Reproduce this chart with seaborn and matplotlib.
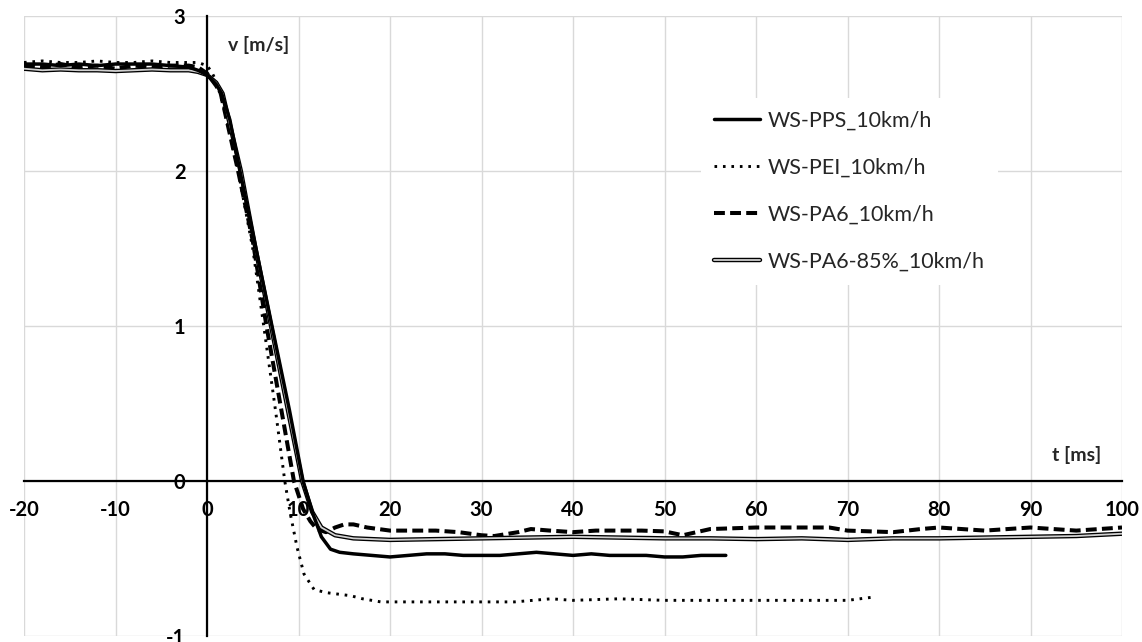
import matplotlib
matplotlib.use("Agg")
import matplotlib.pyplot as plt
import matplotlib.patheffects as pe
import seaborn as sns
import pandas as pd

# ---------------- data ----------------
pre_t = [-20, -18, -16, -14, -12, -10, -8, -6, -4, -2, -1]

pps_t = pre_t + [0, 1, 1.6, 2.5, 3.6, 5, 7.1, 9, 10.5, 11.5, 12.5, 13.5, 14.5, 16, 18, 20,
                 22, 24, 26, 28, 30, 32, 34, 36, 38, 40, 42, 44, 46, 48, 50, 52, 54, 56.7]
pps_v = [2.69, 2.69, 2.68, 2.69, 2.68, 2.69, 2.69, 2.69, 2.68, 2.67, 2.65,
         2.62, 2.56, 2.50, 2.33, 2.00, 1.60, 1.00, 0.46, 0.00, -0.20, -0.36, -0.44, -0.46,
         -0.47, -0.48, -0.49, -0.48, -0.47, -0.47, -0.48, -0.48, -0.48, -0.47, -0.46, -0.47,
         -0.48, -0.47, -0.48, -0.48, -0.48, -0.49, -0.49, -0.48, -0.48]

pei_t = pre_t + [0, 0.5, 1, 2, 3.4, 5, 6.2, 7.5, 8.5, 9.1, 9.85, 10.6, 11.7, 13, 15.7, 17, 19,
                 21, 25, 30, 33.6, 37.6, 40, 45, 50, 55, 60, 65, 70, 72.7]
pei_v = [2.70, 2.71, 2.70, 2.70, 2.71, 2.70, 2.70, 2.71, 2.70, 2.70, 2.70,
         2.68, 2.64, 2.58, 2.38, 2.00, 1.50, 1.00, 0.45, 0.00, -0.21, -0.43, -0.60, -0.70,
         -0.72, -0.74, -0.76, -0.78, -0.78, -0.78, -0.78, -0.78, -0.76, -0.77, -0.76, -0.77,
         -0.77, -0.77, -0.77, -0.77, -0.75]

pa6_t = pre_t + [0, 1, 1.5, 3.4, 5, 6.5, 8, 9.5, 10.5, 11.3, 12, 13, 14, 15, 16, 17.5, 20,
                 22.5, 25, 27.5, 30, 31.4, 34, 35.4, 37.5, 40, 42.5, 45, 47.5, 50, 52, 55,
                 60, 65, 68, 70, 75, 78, 80, 85, 90, 95, 100]
pa6_v = [2.68, 2.67, 2.69, 2.67, 2.68, 2.66, 2.68, 2.67, 2.68, 2.68, 2.67,
         2.63, 2.55, 2.50, 2.00, 1.55, 1.00, 0.50, 0.00, -0.18, -0.26, -0.31, -0.33, -0.30,
         -0.28, -0.28, -0.30, -0.32, -0.32, -0.32, -0.33, -0.35, -0.355, -0.33, -0.31,
         -0.32, -0.33, -0.32, -0.32, -0.32, -0.325, -0.35, -0.31, -0.30, -0.30, -0.30,
         -0.32, -0.33, -0.31, -0.30, -0.32, -0.30, -0.32, -0.30]

pa685_t = pre_t + [0, 1, 1.7, 3.7, 5.3, 7, 8.7, 10.4, 11.5, 12.5, 14, 16, 20, 25, 30, 35,
                   40, 45, 50, 55, 60, 65, 70, 75, 80, 85, 90, 95, 100]
pa685_v = [2.66, 2.65, 2.655, 2.65, 2.65, 2.645, 2.65, 2.655, 2.65, 2.65, 2.64,
           2.62, 2.57, 2.50, 2.00, 1.50, 1.00, 0.50, 0.00, -0.20, -0.30, -0.35, -0.37,
           -0.38, -0.375, -0.37, -0.365, -0.36, -0.365, -0.37, -0.37, -0.375, -0.37,
           -0.38, -0.37, -0.37, -0.365, -0.36, -0.355, -0.34]

labels = ["WS-PPS_10km/h", "WS-PEI_10km/h", "WS-PA6_10km/h", "WS-PA6-85%_10km/h"]
x_ticks = [-20, -10, 0, 10, 20, 30, 40, 50, 60, 70, 80, 90, 100]
y_ticks = [-1, 0, 1, 2, 3]

# ---------------- style ----------------
sns.set_style("white")
plt.rcParams["font.family"] = ["Lato", "DejaVu Sans"]

fig = plt.figure(figsize=(11.42, 6.42), dpi=100)
ax = fig.add_axes([24 / 1142, 6 / 642, (1122 - 24) / 1142, (636 - 16) / 642])

series = [(pps_t, pps_v), (pei_t, pei_v), (pa6_t, pa6_v), (pa685_t, pa685_v)]
for (t, v), lab in zip(series, labels):
    df = pd.DataFrame({"t": t, "v": v})
    sns.lineplot(data=df, x="t", y="v", ax=ax, sort=False, estimator=None, label=lab)

lines = ax.get_lines()
# PPS solid
lines[0].set_color("black"); lines[0].set_linewidth(2.5); lines[0].set_linestyle("-")
# PEI dotted
lines[1].set_color("black"); lines[1].set_linewidth(2.1); lines[1].set_linestyle((0, (0.9, 2.0)))
# PA6 dashed
lines[2].set_color("black"); lines[2].set_linewidth(2.9); lines[2].set_linestyle((0, (2.7, 1.3)))
# PA6-85% double line
lines[3].set_color("#d0d0d0"); lines[3].set_linewidth(1.3); lines[3].set_linestyle("-")
lines[3].set_path_effects([pe.Stroke(linewidth=3.2, foreground="black"), pe.Normal()])
lines[3].set_zorder(2.05)
lines[0].set_zorder(2.1)

ax.set_xlim(-20, 100)
ax.set_ylim(-1, 3)
ax.set_xticks(x_ticks)
ax.set_yticks(y_ticks)
ax.set_xticklabels([str(v) for v in x_ticks])
ax.set_yticklabels([str(v) for v in y_ticks])
ax.grid(True, color="#d9d9d9", linewidth=1.0)
ax.set_axisbelow(True)

for s in ["top", "right"]:
    ax.spines[s].set_visible(False)
ax.spines["left"].set_position(("data", 0))
ax.spines["bottom"].set_position(("data", 0))
for s in ["left", "bottom"]:
    ax.spines[s].set_color("black")
    ax.spines[s].set_linewidth(1.6)
    ax.spines[s].set_zorder(1.5)

ax.tick_params(axis="both", direction="inout", length=9, width=1.5, colors="black",
               labelsize=14.5)
ax.tick_params(axis="x", pad=9)
ax.tick_params(axis="y", pad=11)
for lab in ax.get_xticklabels() + ax.get_yticklabels():
    lab.set_fontweight("bold")

ax.set_xlabel("")
ax.set_ylabel("")
ax.text(95.0, 0.17, "t [ms]", fontsize=14, fontweight="bold", ha="center", va="center")
ax.text(5.6, 2.81, "v [m/s]", fontsize=14, fontweight="bold", ha="center", va="center")

leg = ax.legend(loc="upper left", bbox_to_anchor=(701 / 1142, 1 - 98 / 642),
                bbox_transform=fig.transFigure, fontsize=15.5, frameon=True,
                fancybox=False, borderaxespad=0, borderpad=0.6,
                labelspacing=1.25, handlelength=2.15, handletextpad=0.35)
leg.get_frame().set_facecolor("white")
leg.get_frame().set_edgecolor("none")
leg.get_frame().set_alpha(1)

fig.savefig("out.png", dpi=100)
